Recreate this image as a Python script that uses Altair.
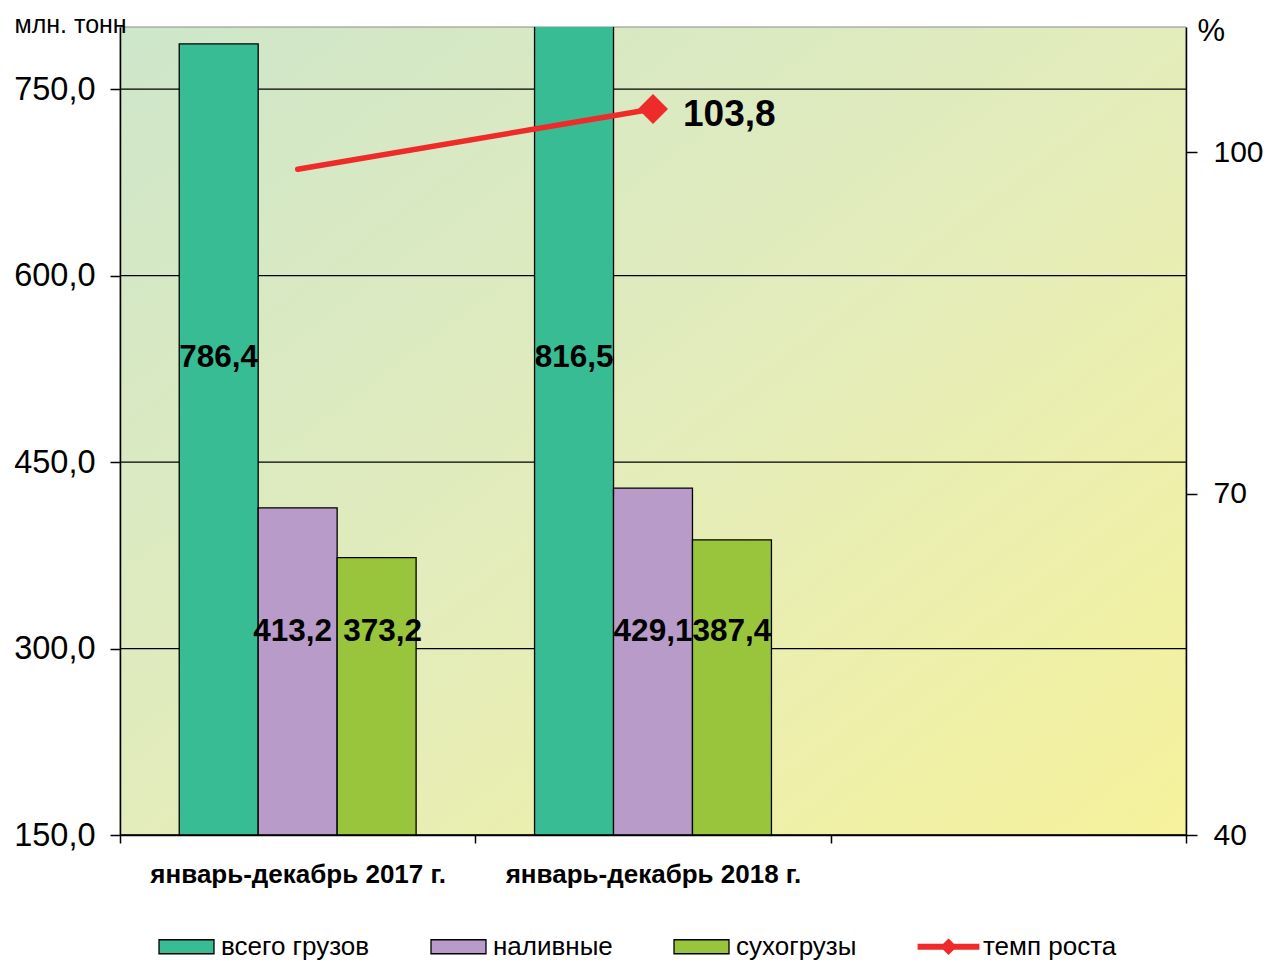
import altair as alt
import pandas as pd

FONT = "Liberation Sans"

periods = ["январь-декабрь 2017 г.", "январь-декабрь 2018 г.", " "]
series = ["всего грузов", "наливные", "сухогрузы"]
legend_items = ["всего грузов", "наливные", "сухогрузы", "темп роста"]
values_2017 = [786.4, 413.2, 373.2]
values_2018 = [816.5, 429.1, 387.4]
growth = [98.5, 103.8]
left_ticks = [150, 300, 450, 600, 750]
right_ticks = [40, 70, 100]
colors = ["#38BC94", "#B89BC9", "#99C53C", "#EE2A2A"]
strokes = ["black", "black", "black", "#EE2A2A"]

RECT = "M-1,-0.255L1,-0.255L1,0.255L-1,0.255Z"
LINE = "M-1.1,-0.085L1.1,-0.085L1.1,0.085L-1.1,0.085Z M0,-0.27L0.27,0L0,0.27L-0.27,0Z"
paths = [RECT, RECT, RECT, LINE]

W, H = 1066, 808

bars_df = pd.DataFrame({
    "period": [periods[0]] * 3 + [periods[1]] * 3,
    "series": series * 2,
    "value": values_2017 + values_2018,
})
bars_df["label"] = bars_df["value"].map(lambda v: f"{v:.1f}".replace(".", ","))
growth_df = pd.DataFrame({"period": periods[:2], "growth": growth})
grid_df = pd.DataFrame({"tick": left_ticks})
legend_df = pd.DataFrame({"series": legend_items})
bg_df = pd.DataFrame({"a": [0]})

x_enc = alt.X(
    "period:N",
    scale=alt.Scale(domain=periods, paddingInner=0, paddingOuter=0),
    axis=alt.Axis(
        title=None, labelAngle=0, labelFontSize=26, labelFontWeight="bold",
        labelColor="black", labelFont=FONT, tickBand="extent", tickSize=8,
        tickColor="black", tickWidth=1.5, domainColor="black", domainWidth=1.5,
        labelPadding=18, labelBaseline="top", labelLimit=600, zindex=1, grid=False,
    ),
)
xoff = alt.XOffset("series:N", scale=alt.Scale(domain=series, paddingInner=0, paddingOuter=0.75))

left_scale = alt.Scale(domain=[150, 800], nice=False, zero=False)
left_axis = alt.Axis(
    values=left_ticks, grid=False, tickSize=10, tickColor="black", tickWidth=1.5,
    domainColor="black", domainWidth=1.5, labelFontSize=32.5, labelColor="black",
    labelFont=FONT, labelPadding=15,
    labelExpr="replace(format(datum.value, '.1f'), '.', ',')",
    title="млн. тонн", titleAngle=0, titleAlign="left", titleBaseline="alphabetic",
    titleX=-106, titleY=5, titleFontSize=25, titleFontWeight="normal",
    titleFont=FONT, titleColor="black", zindex=1,
)
right_scale = alt.Scale(domain=[40, 111], nice=False, zero=False)
right_axis = alt.Axis(
    orient="right", values=right_ticks, grid=False, tickSize=11, tickColor="black",
    tickWidth=1.5, domainColor="black", domainWidth=1.5, labelFontSize=30,
    labelColor="black", labelFont=FONT, labelPadding=16,
    title="%", titleAngle=0, titleAlign="left", titleBaseline="alphabetic",
    titleX=11, titleY=13, titleFontSize=31, titleFontWeight="normal",
    titleFont=FONT, titleColor="black", zindex=1,
)

color_scale = alt.Scale(domain=legend_items, range=colors)
legend = alt.Legend(
    orient="none", legendX=38, legendY=891, direction="horizontal", columns=4,
    title=None, symbolSize=3025, labelFontSize=26, labelFont=FONT,
    labelColor="black", labelOffset=6, columnPadding=58, padding=0,
    symbolStrokeWidth=1.3, labelLimit=400,
)

bg = alt.Chart(bg_df).mark_rect(
    fill=alt.Gradient(
        gradient="linear", x1=0, y1=0, x2=1, y2=1,
        stops=[
            alt.GradientStop(offset=0, color="#CEE6CA"),
            alt.GradientStop(offset=0.5, color="#E3ECBB"),
            alt.GradientStop(offset=1, color="#F6F29C"),
        ],
    ),
    stroke="#8C8C8C", strokeWidth=1,
).encode(x=alt.value(0), x2=alt.value(W), y=alt.value(0), y2=alt.value(H))

grid = alt.Chart(grid_df).mark_rule(color="black", strokeWidth=1.3).encode(
    y=alt.Y("tick:Q", scale=left_scale, axis=left_axis)
)

bars = alt.Chart(bars_df).mark_bar(stroke="black", strokeWidth=1.3, clip=True).encode(
    x=x_enc,
    xOffset=xoff,
    y=alt.Y("value:Q", scale=left_scale, axis=left_axis),
    y2=alt.datum(150),
    color=alt.Color("series:N", scale=color_scale, legend=legend),
)

label_base = alt.Chart(bars_df).transform_calculate(
    ly="datum.series === 'всего грузов' ? 534 : 313"
)
label_enc = dict(
    x=x_enc,
    xOffset=xoff,
    y=alt.Y("ly:Q", scale=left_scale, axis=left_axis),
    text="label:N",
)
text_style = dict(fontSize=31.5, fontWeight="bold", font=FONT, color="black", baseline="middle")

labels_main = label_base.transform_filter(
    (alt.datum.period != periods[0]) | (alt.datum.series == series[0])
).mark_text(**text_style).encode(**label_enc)
labels_liquid = label_base.transform_filter(
    (alt.datum.period == periods[0]) & (alt.datum.series == series[1])
).mark_text(dx=-5, **text_style).encode(**label_enc)
labels_dry = label_base.transform_filter(
    (alt.datum.period == periods[0]) & (alt.datum.series == series[2])
).mark_text(dx=6, **text_style).encode(**label_enc)

legend_layer = alt.Chart(legend_df).transform_filter("false").mark_point(
    filled=True, opacity=1
).encode(
    color=alt.Color("series:N", scale=color_scale, legend=legend),
    shape=alt.Shape("series:N", scale=alt.Scale(domain=legend_items, range=paths), legend=legend),
    stroke=alt.Stroke("series:N", scale=alt.Scale(domain=legend_items, range=strokes), legend=legend),
)

left = alt.layer(bg, grid, bars, labels_main, labels_liquid, labels_dry, legend_layer)

line = alt.Chart(growth_df).mark_line(color="#EE2A2A", strokeWidth=5.5, strokeCap="round").encode(
    x=x_enc,
    y=alt.Y("growth:Q", scale=right_scale, axis=right_axis),
)
diamond = alt.Chart(growth_df).transform_filter(
    alt.datum.period == periods[1]
).mark_point(shape="diamond", filled=True, size=900, color="#EE2A2A", opacity=1).encode(
    x=x_enc,
    y=alt.Y("growth:Q", scale=right_scale, axis=right_axis),
)
growth_label = alt.Chart(growth_df).transform_filter(
    alt.datum.period == periods[1]
).transform_calculate(
    gl="replace(format(datum.growth, '.1f'), '.', ',')"
).mark_text(
    fontSize=37, fontWeight="bold", font=FONT, color="black", align="left",
    baseline="middle", dx=30, dy=6,
).encode(
    x=x_enc,
    y=alt.Y("growth:Q", scale=right_scale, axis=right_axis),
    text="gl:N",
)

right = alt.layer(line, diamond, growth_label)

chart = alt.layer(left, right).resolve_scale(y="independent").properties(
    width=W, height=H,
    padding={"left": 112, "top": 19, "right": 77, "bottom": 127},
    autosize=alt.AutoSizeParams(type="none"),
).configure_view(stroke="transparent").configure(background="white")

chart.save("out.html", embed_options={"renderer": "svg", "actions": False})
